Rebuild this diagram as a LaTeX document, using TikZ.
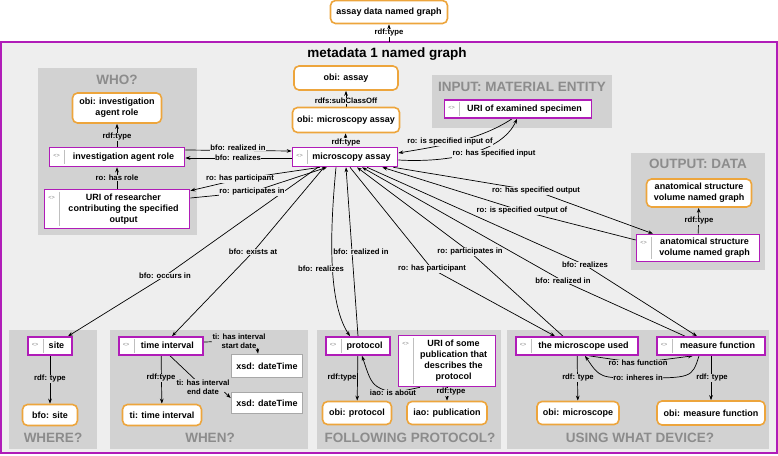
\documentclass[tikz,border=0pt]{standalone}
\usepackage{fontspec}
\setmainfont{Liberation Sans}
\usetikzlibrary{arrows.meta}
\definecolor{pc}{HTML}{B01CB8}
\definecolor{oc}{HTML}{EDA53C}
\definecolor{bgc}{HTML}{EEEEEE}
\definecolor{grc}{HTML}{D2D2D2}
\definecolor{ttc}{HTML}{8C8C8C}
\definecolor{xc}{HTML}{A8A8A8}
\pgfdeclarelayer{grp}
\pgfdeclarelayer{edges}
\pgfsetlayers{grp,edges,main}
\newcommand{\ptx}[1]{\hspace*{13pt}\begin{tabular}{@{}c@{}}#1\end{tabular}}
\tikzset{
 nfont/.style={font=\fontsize{9}{11}\selectfont\bfseries},
 pnode/.style={nfont, draw=pc, line width=1.6pt, fill=white, inner xsep=4pt, inner ysep=1pt, minimum height=18pt,
   append after command={
     ([xshift=16pt,yshift=-3pt]\tikzlastnode.north west) edge[draw=black!25, line width=0.6pt] ([xshift=16pt,yshift=3pt]\tikzlastnode.south west)
     ([xshift=8pt,yshift=-9pt]\tikzlastnode.north west) node[font=\fontsize{5.5}{6}\selectfont, text=black!50, inner sep=0pt] {<>}
   }},
 onode/.style={nfont, draw=oc, line width=1.6pt, fill=white, rounded corners=5pt, align=center, inner xsep=4pt, inner ysep=1pt, minimum height=22pt},
 xnode/.style={nfont, draw=xc, line width=1.6pt, fill=white, minimum width=71pt, minimum height=21pt},
 lbl/.style={font=\fontsize{7.7}{8.8}\selectfont\bfseries, fill=bgc, inner sep=0.6pt, align=center},
 lblg/.style={lbl, fill=grc},
 arr/.style={-{Stealth[length=5pt,width=3.6pt]}, line width=0.7pt},
 gtitle/.style={font=\fontsize{13.5}{15}\selectfont\bfseries, text=ttc, inner sep=0pt},
}
\begin{document}
\begin{tikzpicture}[x=1pt,y=-1pt]
\useasboundingbox (0,0) rectangle (778,455);
\begin{pgfonlayer}{grp}
\fill[white] (0,0) rectangle (778,455);
\draw[pc, line width=2pt, fill=bgc] (1,42) rectangle (777,453);
\fill[grc] (38,68) rectangle (197,235);
\fill[grc] (432,75) rectangle (612,128);
\fill[grc] (631,153) rectangle (765,270);
\fill[grc] (9,330) rectangle (97,449);
\fill[grc] (110,330) rectangle (308,449);
\fill[grc] (317,330) rectangle (501,449);
\fill[grc] (507,330) rectangle (769,449);
\end{pgfonlayer}

% titles
\node[font=\fontsize{13.5}{15}\selectfont\bfseries] (mtitle) at (387,54) {metadata 1 named graph};
\node[gtitle] (tWho) at (117,80) {WHO?};
\node[gtitle] (tIn) at (522,87) {INPUT: MATERIAL ENTITY};
\node[gtitle] (tOut) at (698,164) {OUTPUT: DATA};
\node[gtitle] (tWhere) at (53,438) {WHERE?};
\node[gtitle] (tWhen) at (210,438) {WHEN?};
\node[gtitle] (tProt) at (410,438) {FOLLOWING PROTOCOL?};
\node[gtitle] (tDev) at (640,438) {USING WHAT DEVICE?};

% nodes
\node[onode, minimum width=117pt, minimum height=23pt] (adng) at (389,12) {assay data named graph};
\coordinate (ftop) at (389,42);
\node[onode, minimum width=104pt, minimum height=24pt] (obiassay) at (346,78) {obi: assay};
\node[onode, minimum width=107pt, minimum height=25pt] (obimic) at (346,120) {obi: microscopy assay};
\node[pnode, minimum width=105pt, minimum height=19pt] (mass) at (345,157) {\ptx{microscopy assay}};
\node[onode, minimum width=89pt, minimum height=30pt] (obiiar) at (117,108) {obi: investigation\\agent role};
\node[pnode, minimum width=135pt, minimum height=19pt] (iar) at (117,157) {\ptx{investigation agent role}};
\node[pnode, minimum width=145pt, minimum height=39pt] (res) at (117,209) {\ptx{URI of researcher\\contributing the specified\\output}};
\node[pnode, minimum width=147pt] (spec) at (518,109) {\ptx{URI of examined specimen}};
\node[onode, minimum width=105pt, minimum height=28pt] (anatc) at (699,193) {anatomical structure\\volume named graph};
\node[pnode, minimum width=123pt, minimum height=27pt] (anat) at (698,248) {\ptx{anatomical structure\\volume named graph}};

\node[pnode, minimum width=44pt] (site) at (50,346) {\ptx{site}};
\node[onode, minimum width=55pt, minimum height=21pt] (bfosite) at (50,415) {bfo: site};
\node[pnode, minimum width=84pt] (ti) at (161,346) {\ptx{time interval}};
\node[onode, minimum width=79pt, minimum height=21pt] (titi) at (162,415) {ti: time interval};
\node[xnode, minimum height=23pt] (xsd1) at (267,366) {xsd: dateTime};
\node[xnode] (xsd2) at (267,403) {xsd: dateTime};
\node[pnode, minimum width=64pt] (prot) at (358,346) {\ptx{protocol}};
\node[onode, minimum width=69pt, minimum height=23pt] (obiprot) at (357,413) {obi: protocol};
\node[pnode, minimum width=97pt, minimum height=51pt] (pub) at (447,361) {\ptx{URI of some\\publication that\\describes the\\protocol}};
\node[onode, minimum width=80pt, minimum height=23pt] (iaopub) at (447,413) {iao: publication};
\node[pnode, minimum width=122pt] (micro) at (577,346) {\ptx{the microscope used}};
\node[onode, minimum width=82pt, minimum height=23pt] (obimicro) at (578,413) {obi: microscope};
\node[pnode, minimum width=108pt] (mf) at (711,346) {\ptx{measure function}};
\node[onode, minimum width=108pt, minimum height=24pt] (obimf) at (711,413) {obi: measure function};

% labels
\node[lbl, fill=white] (l0) at (389,33) {rdf:type};
\node[lbl] (l1) at (346,101) {rdfs:subClassOff};
\node[lbl] (l2) at (346,142.5) {rdf:type};
\node[lblg] (l3) at (117,137) {rdf:type};
\node[lblg] (l4) at (117,178) {ro: has role};
\node[lbl] (l5) at (238,148) {bfo: realized in};
\node[lbl] (l6) at (238,157.5) {bfo: realizes};
\node[lbl] (l7) at (240,179) {ro: has participant};
\node[lbl] (l8) at (252,192) {ro: participates in};
\node[lbl] (l9) at (450,142) {ro: is specified input of};
\node[lbl] (l10) at (494,154) {ro: has specified input};
\node[lbl] (l11) at (536,191) {ro: has specified output};
\node[lbl] (l12) at (522,211) {ro: is specified output of};
\node[lblg] (l13) at (699,221) {rdf:type};
\node[lbl] (l14) at (165,276) {bfo: occurs in};
\node[lbl] (l15) at (253,252) {bfo: exists at};
\node[lbl] (l16) at (321,269) {bfo: realizes};
\node[lbl] (l17) at (361,252) {bfo: realized in};
\node[lbl] (l18) at (432,269) {ro: has participant};
\node[lbl] (l19) at (470,252) {ro: participates in};
\node[lbl] (l20) at (585,265) {bfo: realizes};
\node[lbl] (l21) at (563,281) {bfo: realized in};
\node[lblg] (l22) at (50,379) {rdf: type};
\node[lblg] (l23) at (161,378) {rdf:type};
\node[lbl, fill=none] (l24) at (239,341) {ti: has interval\\start date};
\node[lbl, fill=none] (l25) at (203,387) {ti: has interval\\end date};
\node[lblg] (l26) at (342,378) {rdf:type};
\node[lblg] (l27) at (393,393) {iao: is about};
\node[lblg] (l28) at (451,392) {rdf:type};
\node[lblg] (l29) at (578,378) {rdf: type};
\node[lblg] (l30) at (712,378) {rdf: type};
\node[lblg] (l31) at (638,363) {ro: has function};
\node[lblg] (l32) at (638,378) {ro: inheres in};

\begin{pgfonlayer}{edges}
\draw[arr] (ftop) -- (adng);
\draw[arr] (obimic) -- (obiassay);
\draw[arr] (mass) -- (obimic);
\draw[arr] (iar) -- (obiiar);
\draw[arr] (res) -- (iar);
\draw[arr] ([yshift=7pt]iar.east) -- ([yshift=6pt]mass.west);
\draw[arr] ([yshift=-1pt]mass.west) -- ([yshift=-1pt]iar.east);
\draw[arr] ([xshift=-25pt]mass.south) -- (l7.center) -- ([yshift=-2pt]res.north east);
\draw[arr] ([yshift=11pt]res.east) -- (l8.center) -- ([xshift=-18pt]mass.south);
\draw[arr] ([xshift=-6pt]spec.south) .. controls (480,140) and (440,146) .. ([yshift=4pt]mass.east);
\draw[arr] ([yshift=-3pt]mass.east) .. controls (450,163) and (502,152) .. ([xshift=-1pt]spec.south);
\draw[arr] ([xshift=-5pt]mass.south east) -- (l11.center) -- ([xshift=-45pt]anat.north);
\draw[arr] ([yshift=8pt]anat.west) -- (l12.center) -- ([xshift=-16pt]mass.south east);
\draw[arr] (anat) -- (anatc);
\draw[arr] ([xshift=-27pt]mass.south) -- (l14.center) -- ([xshift=18pt]site.north);
\draw[arr] ([xshift=-21pt]mass.south) -- (l15.center) -- ([xshift=11pt]ti.north);
\draw[arr] ([xshift=-9pt]mass.south) .. controls (331,220) and (326,300) .. ([xshift=-8pt]prot.north);
\draw[arr] (prot.north) -- ([xshift=1pt]mass.south);
\draw[arr] ([xshift=5pt]mass.south) -- (l18.center) -- ([xshift=-22pt]micro.north);
\draw[arr] ([xshift=-14pt]micro.north) -- (l19.center) -- ([xshift=12pt]mass.south);
\draw[arr] ([xshift=22pt]mass.south) -- (l20.center) -- ([xshift=-14pt]mf.north);
\draw[arr] ([xshift=-26pt]mf.north) -- (l21.center) -- ([xshift=17pt]mass.south);
\draw[arr] (site) -- (bfosite);
\draw[arr] (ti) -- (titi);
\draw[line width=0.7pt] ([yshift=4pt]ti.east) -- (l24);
\draw[arr] ([xshift=-9pt,yshift=1pt]l24.south east) -- ([xshift=-9pt]xsd1.north);
\draw[line width=0.7pt] ([xshift=9pt]ti.south) -- (l25);
\draw[arr] ([xshift=-6pt,yshift=3pt]l25.south east) -- ([yshift=5pt]xsd2.west);
\draw[arr] (prot) -- (obiprot);
\draw[arr] (pub) -- (iaopub);
\draw[arr] ([xshift=-27pt]pub.south) -- (l27.center) .. controls (372,386) .. ([xshift=4pt]prot.south);
\draw[arr] (micro) -- (obimicro);
\draw[arr] (mf) -- (obimf);
\draw[arr] ([xshift=12pt]micro.south) -- (l31.center) -- ([xshift=-18pt]mf.south);
\draw[arr] ([xshift=-12pt]mf.south) .. controls (692,378) .. (l32.center) .. controls (600,378) .. ([xshift=8pt]micro.south);
\end{pgfonlayer}
\end{tikzpicture}
\end{document}
